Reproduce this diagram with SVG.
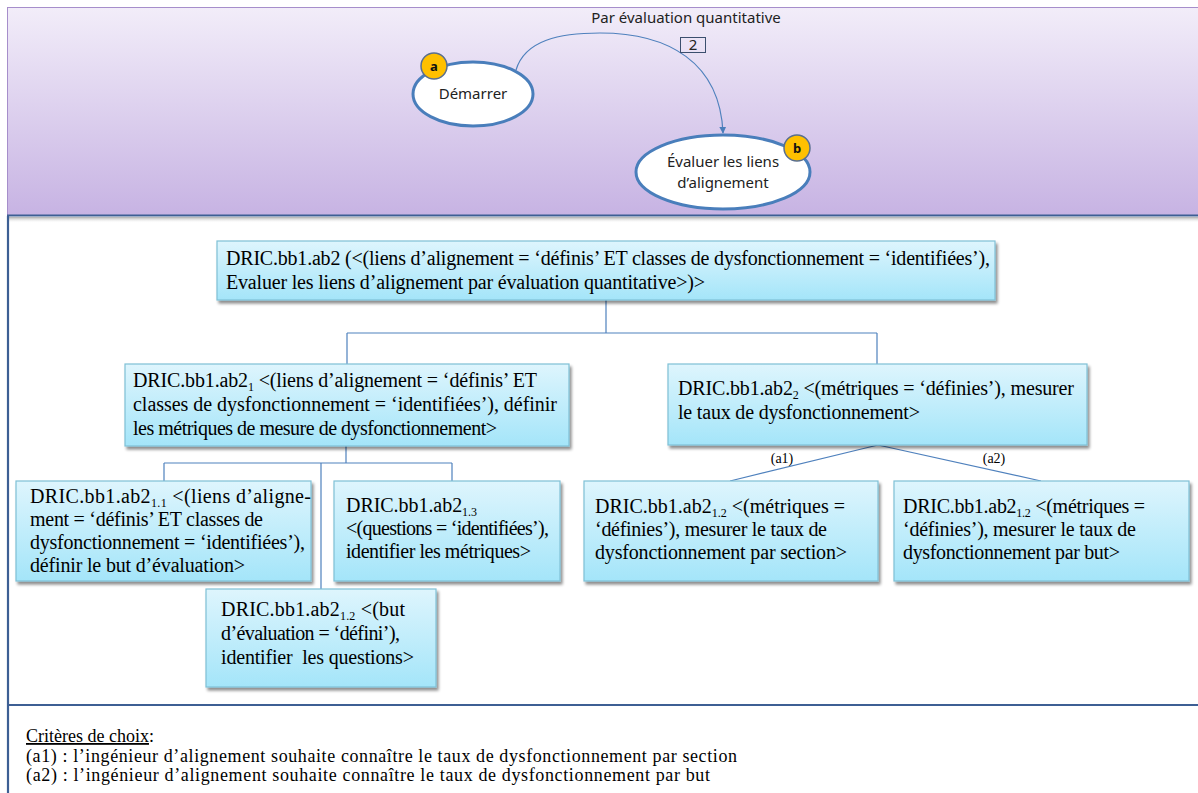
<svg xmlns="http://www.w3.org/2000/svg" width="1198" height="793" viewBox="0 0 1198 793">
  <defs>
    <linearGradient id="panelFill" x1="0" y1="0" x2="0" y2="1">
      <stop offset="0" stop-color="#f2edf9"/>
      <stop offset="1" stop-color="#c7b3e3"/>
    </linearGradient>
    <linearGradient id="panelShadow" x1="0" y1="0" x2="0" y2="1">
      <stop offset="0" stop-color="#8a8a8a" stop-opacity="0.7"/>
      <stop offset="1" stop-color="#ffffff" stop-opacity="0"/>
    </linearGradient>
    <linearGradient id="boxFill" x1="0" y1="0" x2="0" y2="1">
      <stop offset="0" stop-color="#def5fd"/>
      <stop offset="1" stop-color="#a4e5f9"/>
    </linearGradient>
    <filter id="boxShadow" x="-5%" y="-10%" width="115%" height="130%">
      <feGaussianBlur in="SourceAlpha" stdDeviation="1.5"/>
      <feOffset dx="2" dy="3" result="off"/>
      <feComponentTransfer><feFuncA type="linear" slope="0.45"/></feComponentTransfer>
      <feMerge><feMergeNode/><feMergeNode in="SourceGraphic"/></feMerge>
    </filter>
    <filter id="soft" x="-10%" y="-10%" width="120%" height="120%">
      <feGaussianBlur stdDeviation="0.4"/>
    </filter>
    <marker id="arrow" viewBox="0 0 10 10" refX="9" refY="5" markerWidth="7" markerHeight="7" orient="auto" markerUnits="userSpaceOnUse">
      <path d="M0,0 L10,5 L0,10 z" fill="#4a7ebb"/>
    </marker>
    <style>
      .serif { font-family: "Liberation Serif", "Times New Roman", serif; font-size: 20px; fill: #000; }
      .small { font-family: "Liberation Serif", "Times New Roman", serif; font-size: 14px; fill: #000; }
      .note { font-family: "Liberation Serif", "Times New Roman", serif; font-size: 18px; fill: #000; }
      .sans { font-family: "Noto Sans", "Open Sans", sans-serif; font-size: 15px; fill: #222; }
      .box { fill: url(#boxFill); stroke: #7fc0d6; stroke-width: 1.2; filter: url(#boxShadow); }
      .state { fill: #ffffff; stroke: #4a7ebb; stroke-width: 3; }
      .badge { fill: #ffc000; stroke: #5a6f8f; stroke-width: 1.5; }
      .badgeText { font-family: "Noto Sans", "Open Sans", sans-serif; font-size: 13px; font-weight: bold; fill: #111; }
      .link { fill: none; stroke: #4f81bd; stroke-width: 1.2; }
      .frame { stroke: #3d5f94; stroke-width: 2.2; fill: none; }
    </style>
  </defs>

  <!-- upper map panel -->
  <g id="map-panel">
    <rect x="7.5" y="7.5" width="1195" height="208" fill="url(#panelFill)" stroke="#a68ecb" stroke-width="1"/>
    <rect x="7" y="217" width="1191" height="6" fill="url(#panelShadow)"/>
    <line x1="7" y1="215.5" x2="1198" y2="215.5" class="frame"/>
  </g>

  <!-- frame of the lower part -->
  <g id="frame">
    <line x1="8" y1="216" x2="8" y2="793" class="frame"/>
    <line x1="7" y1="705" x2="1198" y2="705" class="frame"/>
  </g>

  <!-- map section connectors -->
  <g id="map-connectors">
    <path class="link" d="M516,70 C525,40 560,33 600,33 C668,33 720,62 723,133" marker-end="url(#arrow)"/>
    <text class="sans" x="686" y="23" text-anchor="middle">Par évaluation quantitative</text>
    <rect x="680.5" y="37.5" width="25" height="15" fill="none" stroke="#3b4f6e" stroke-width="1"/>
    <text class="sans" x="693" y="50" text-anchor="middle" font-size="13">2</text>
  </g>

  <g id="state-start">
    <ellipse class="state" cx="473" cy="94" rx="60" ry="32" filter="url(#soft)"/>
    <text class="sans" x="473" y="99" text-anchor="middle">Démarrer</text>
    <circle class="badge" cx="434" cy="66" r="13"/>
    <text class="badgeText" x="434" y="71" text-anchor="middle">a</text>
  </g>

  <g id="state-evaluate">
    <ellipse class="state" cx="723" cy="172" rx="87" ry="37" filter="url(#soft)"/>
    <text class="sans" x="723" y="167" text-anchor="middle">Évaluer les liens</text>
    <text class="sans" x="723" y="188" text-anchor="middle">d’alignement</text>
    <circle class="badge" cx="797" cy="148" r="13"/>
    <text class="badgeText" x="797" y="153" text-anchor="middle">b</text>
  </g>

  <!-- refinement tree connectors -->
  <g id="tree-connectors">
    <path class="link" d="M606,300 V333 M347,333 H877 M347,333 V364 M877,333 V364"/>
    <path class="link" d="M346,446 V463 M164,463 H452 M164,463 V481 M452,463 V481 M321,463 V589"/>
    <path class="link" d="M878,445 L730,481 M878,445 L1041,481"/>
    <text class="small" x="782" y="463" text-anchor="middle">(a1)</text>
    <text class="small" x="994" y="463" text-anchor="middle">(a2)</text>
  </g>

  <g id="node-root">
    <rect class="box" x="217" y="241" width="778" height="59"/>
    <text class="serif" x="226" y="265" textLength="764" lengthAdjust="spacing">DRIC.bb1.ab2 (&lt;(liens d’alignement = ‘définis’ ET classes de dysfonctionnement = ‘identifiées’),</text>
    <text class="serif" x="226" y="289" textLength="479" lengthAdjust="spacing">Evaluer les liens d’alignement par évaluation quantitative&gt;)&gt;</text>
  </g>

  <g id="node-ab2-1">
    <rect class="box" x="125" y="364" width="444" height="82"/>
    <text class="serif" x="133" y="387" textLength="404" lengthAdjust="spacing">DRIC.bb1.ab2<tspan font-size="12" dy="4">1</tspan><tspan dy="-4"> &lt;(liens d’alignement = ‘définis’ ET</tspan></text>
    <text class="serif" x="133" y="411" textLength="424" lengthAdjust="spacing">classes de dysfonctionnement = ‘identifiées’), définir</text>
    <text class="serif" x="133" y="435" textLength="364" lengthAdjust="spacing">les métriques de mesure de dysfonctionnement&gt;</text>
  </g>

  <g id="node-ab2-2">
    <rect class="box" x="668" y="364" width="419" height="81"/>
    <text class="serif" x="678" y="395" textLength="396" lengthAdjust="spacing">DRIC.bb1.ab2<tspan font-size="12" dy="4">2</tspan><tspan dy="-4"> &lt;(métriques = ‘définies’), mesurer</tspan></text>
    <text class="serif" x="678" y="419" textLength="242" lengthAdjust="spacing">le taux de dysfonctionnement&gt;</text>
  </g>

  <g id="node-ab2-1-1">
    <rect class="box" x="16" y="481" width="295" height="100"/>
    <text class="serif" x="30" y="503" textLength="281" lengthAdjust="spacing">DRIC.bb1.ab2<tspan font-size="12" dy="4">1.1</tspan><tspan dy="-4"> &lt;(liens d’aligne-</tspan></text>
    <text class="serif" x="30" y="526" textLength="233" lengthAdjust="spacing">ment = ‘définis’ ET classes de</text>
    <text class="serif" x="30" y="549" textLength="275" lengthAdjust="spacing">dysfonctionnement = ‘identifiées’),</text>
    <text class="serif" x="30" y="572" textLength="215" lengthAdjust="spacing">définir le but d’évaluation&gt;</text>
  </g>

  <g id="node-ab2-1-3">
    <rect class="box" x="334" y="481" width="226" height="100"/>
    <text class="serif" x="346" y="512" textLength="131" lengthAdjust="spacing">DRIC.bb1.ab2<tspan font-size="12" dy="4">1.3</tspan></text>
    <text class="serif" x="346" y="535" textLength="203" lengthAdjust="spacing">&lt;(questions = ‘identifiées’),</text>
    <text class="serif" x="346" y="558" textLength="185" lengthAdjust="spacing">identifier les métriques&gt;</text>
  </g>

  <g id="node-ab2-1-2">
    <rect class="box" x="206" y="589" width="230" height="98"/>
    <text class="serif" x="221" y="616" textLength="184" lengthAdjust="spacing">DRIC.bb1.ab2<tspan font-size="12" dy="4">1.2</tspan><tspan dy="-4"> &lt;(but</tspan></text>
    <text class="serif" x="221" y="640" textLength="179" lengthAdjust="spacing">d’évaluation = ‘défini’),</text>
    <text class="serif" x="221" y="664" textLength="193" lengthAdjust="spacing">identifier&#160; les questions&gt;</text>
  </g>

  <g id="node-section">
    <rect class="box" x="584" y="481" width="294" height="100"/>
    <text class="serif" x="595" y="513" textLength="250" lengthAdjust="spacing">DRIC.bb1.ab2<tspan font-size="12" dy="4">1.2</tspan><tspan dy="-4"> &lt;(métriques =</tspan></text>
    <text class="serif" x="595" y="536" textLength="232" lengthAdjust="spacing">‘définies’), mesurer le taux de</text>
    <text class="serif" x="595" y="559" textLength="252" lengthAdjust="spacing">dysfonctionnement par section&gt;</text>
  </g>

  <g id="node-goal">
    <rect class="box" x="894" y="481" width="295" height="100"/>
    <text class="serif" x="903" y="513" textLength="242" lengthAdjust="spacing">DRIC.bb1.ab2<tspan font-size="12" dy="4">1.2</tspan><tspan dy="-4"> &lt;(métriques =</tspan></text>
    <text class="serif" x="903" y="536" textLength="233" lengthAdjust="spacing">‘définies’), mesurer le taux de</text>
    <text class="serif" x="903" y="559" textLength="217" lengthAdjust="spacing">dysfonctionnement par but&gt;</text>
  </g>

  <!-- choice criteria -->
  <g id="criteria">
    <text class="note" x="26" y="742"><tspan text-decoration="underline">Critères de choix</tspan>:</text>
    <text class="note" x="26" y="762" textLength="711" lengthAdjust="spacing">(a1) : l’ingénieur d’alignement souhaite connaître le taux de dysfonctionnement par section</text>
    <text class="note" x="26" y="781" textLength="684" lengthAdjust="spacing">(a2) : l’ingénieur d’alignement souhaite connaître le taux de dysfonctionnement par but</text>
  </g>
</svg>
